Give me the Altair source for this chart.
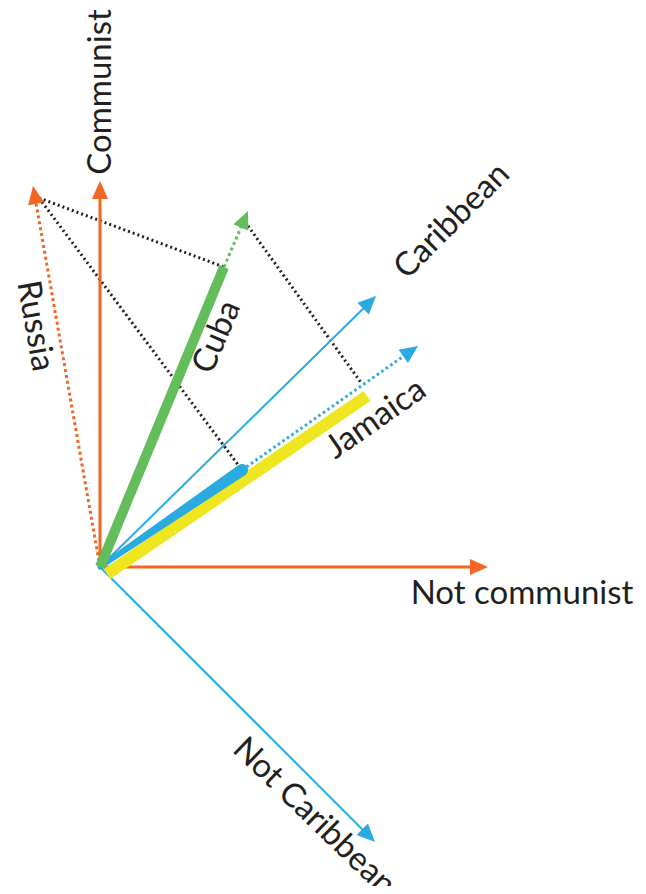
import altair as alt
import pandas as pd
import numpy as np

# Vector diagram: units are pixels, origin at the axes' crossing, y up.
seg_name = ["communist_axis", "not_communist_axis", "caribbean_axis", "not_caribbean_axis",
            "proj_russia_cuba", "proj_russia_blue", "proj_cuba_jamaica",
            "russia", "jamaica", "cuba", "cuba_ext", "blue_ext"]
seg_x0 = [0, 0, 0, 0, -61, -61, 148, 0, 7, 0, 124, 142]
seg_y0 = [0, 0, 0, 0, 369, 369, 341, 0, -7, 0, 300, 97]
seg_x1 = [0, 388, 276, 275, 124, 142, 262, -67, 267, 124, 148, 318]
seg_y1 = [386, 0, 271, -275, 300, 97, 183, 381, 171, 300, 356, 221]
seg_kind = ["orange_axis", "orange_axis", "blue_axis", "blue_axis",
            "black_dot", "black_dot", "black_dot",
            "orange_dot", "yellow_thick", "green_thick", "green_dot", "blue_dot"]
seg_arrow = [True, True, True, True, False, False, False, True, False, False, True, True]

# tapered blue vector (trail): points
trail_x = [0, 142]
trail_y = [0, 97]

label_text = ["Communist", "Not communist", "Caribbean", "Not Caribbean", "Russia", "Cuba", "Jamaica"]
label_x = [1, 422, 352, 214, -65, 117, 276]
label_y = [475, -27, 346, -250, 241, 230, 148]
label_angle = [270, 0, 315, 44, 80, 293, 325]

# styles
ORANGE = "#F26522"
BLUE = "#29ABE2"
GREEN = "#63BD5B"
YELLOW = "#EFE622"
BLACK = "#231F20"
styles = {
    "orange_axis": dict(color=ORANGE, strokeWidth=3),
    "blue_axis": dict(color=BLUE, strokeWidth=2),
    "black_dot": dict(color=BLACK, strokeWidth=3, strokeDash=[2, 3]),
    "orange_dot": dict(color=ORANGE, strokeWidth=3, strokeDash=[3, 3]),
    "yellow_thick": dict(color=YELLOW, strokeWidth=12),
    "green_thick": dict(color=GREEN, strokeWidth=10),
    "green_dot": dict(color=GREEN, strokeWidth=3, strokeDash=[3, 3]),
    "blue_dot": dict(color=BLUE, strokeWidth=3, strokeDash=[2.5, 3]),
}
arrow_color = {"orange_axis": ORANGE, "blue_axis": BLUE, "orange_dot": ORANGE,
               "green_dot": GREEN, "blue_dot": BLUE}

xs = alt.Scale(domain=[-92, 538], nice=False, zero=False)
ys = alt.Scale(domain=[-319, 559], nice=False, zero=False)

ARROW_LEN = 16
rows = []
heads = []
for n, x0, y0, x1, y1, k, a in zip(seg_name, seg_x0, seg_y0, seg_x1, seg_y1, seg_kind, seg_arrow):
    dx, dy = x1 - x0, y1 - y0
    L = np.hypot(dx, dy)
    ex, ey = x1, y1
    if a:
        ex, ey = x1 - dx / L * ARROW_LEN, y1 - dy / L * ARROW_LEN
        ang = (np.degrees(np.arctan2(-dy, dx)) + 90) % 360
        heads.append(dict(x=x1, y=y1, angle=float(ang), color=arrow_color[k]))
    rows.append(dict(name=n, x=x0, y=y0, x2=float(ex), y2=float(ey), kind=k))
segs = pd.DataFrame(rows)

order = ["black_dot", "orange_dot", "orange_axis", "blue_axis", "yellow_thick",
         "green_thick", "green_dot", "blue_dot"]
layers = []
for k in order:
    st = styles[k]
    kw = dict(color=st["color"], strokeWidth=st["strokeWidth"], strokeCap="butt")
    if "strokeDash" in st:
        kw["strokeDash"] = st["strokeDash"]
    layers.append(
        alt.Chart(segs[segs.kind == k]).mark_rule(**kw).encode(
            x=alt.X("x:Q", scale=xs, axis=None),
            y=alt.Y("y:Q", scale=ys, axis=None),
            x2="x2:Q", y2="y2:Q",
        )
    )
    if k == "yellow_thick":
        trail = pd.DataFrame({"x": trail_x, "y": trail_y, "w": [5, 12], "o": [0, 1]})
        layers.append(
            alt.Chart(trail).mark_trail(color=BLUE).encode(
                x=alt.X("x:Q", scale=xs, axis=None),
                y=alt.Y("y:Q", scale=ys, axis=None),
                order="o:Q",
                size=alt.Size("w:Q", scale=None, legend=None),
            )
        )

heads_df = pd.DataFrame(heads)
layers.append(
    alt.Chart(heads_df).mark_point(
        shape="M0,0L-0.9,2L0.9,2Z", size=324, filled=True, opacity=1, strokeWidth=0
    ).encode(
        x=alt.X("x:Q", scale=xs, axis=None),
        y=alt.Y("y:Q", scale=ys, axis=None),
        angle=alt.Angle("angle:Q", scale=None),
        color=alt.Color("color:N", scale=None, legend=None),
    )
)

labels = pd.DataFrame({"t": label_text, "x": label_x, "y": label_y, "a": label_angle})
layers.append(
    alt.Chart(labels).mark_text(
        font="Lato", fontSize=33, color=BLACK, align="center", baseline="middle"
    ).encode(
        x=alt.X("x:Q", scale=xs, axis=None),
        y=alt.Y("y:Q", scale=ys, axis=None),
        text="t:N",
        angle=alt.Angle("a:Q", scale=None),
    )
)

chart = alt.layer(*layers).properties(
    width=630, height=878, autosize="none", padding=0
).configure_view(stroke=None)

chart.save("out.html", embed_options={"renderer": "svg", "actions": False})
